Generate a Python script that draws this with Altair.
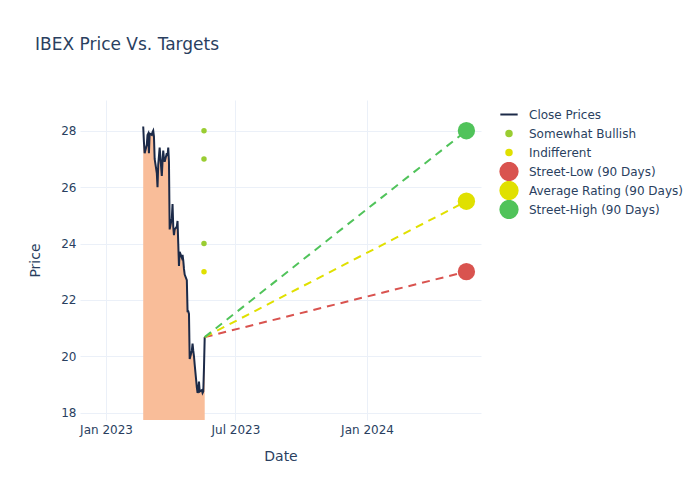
import altair as alt
import pandas as pd

# ---------------- data ----------------
price_start = "2023-02-22"
price_end = "2023-05-19"
close_prices = [28.15, 27.6, 27.2, 27.5, 27.85, 27.9, 27.2, 27.9, 27.85, 27.95,
                28.0, 27.8, 27.0, 26.5, 26.0, 26.8, 27.1, 27.4, 26.4, 26.9,
                27.3, 27.0, 26.9, 27.2, 27.1, 27.4, 26.9, 24.5, 24.9, 25.4,
                24.6, 24.3, 24.5, 24.6, 24.8, 24.0, 23.2, 23.7, 23.5, 23.6,
                23.4, 23.1, 22.9, 22.7, 21.6, 21.6, 21.5, 19.9, 20.2, 20.45,
                20.2, 20.0, 19.7, 18.9, 18.7, 18.8, 19.1, 18.75, 18.8, 18.7,
                18.75, 19.6, 20.68]

analyst_date = "2023-05-18"
analyst_ratings = ["Somewhat Bullish", "Somewhat Bullish", "Somewhat Bullish", "Indifferent"]
analyst_targets = [28, 27, 24, 23]

target_date = "2024-05-19"
target_names = ["Street-Low (90 Days)", "Average Rating (90 Days)", "Street-High (90 Days)"]
target_values = [23, 25.5, 28]

series_names = ["Close Prices", "Somewhat Bullish", "Indifferent"] + target_names
series_colors = ["#1c2a48", "#9acd32", "#e0e000", "#d9534f", "#e0e000", "#50c35a"]
series_shapes = ["stroke", "circle", "circle", "circle", "circle", "circle"]
series_sizes = [300, 30, 30, 300, 300, 300]

area_color = "#f9bd99"
text_color = "#2a3f5f"
grid_color = "#ebf0f8"
FONT = "DejaVu Sans"

# ---------------- tables ----------------
dates = pd.bdate_range(price_start, price_end).strftime("%Y-%m-%d")
price_df = pd.DataFrame({"date": list(dates), "value": close_prices, "series": "Close Prices"})

points_df = pd.DataFrame({
    "date": [analyst_date] * len(analyst_targets) + [target_date] * len(target_values),
    "value": analyst_targets + target_values,
    "series": analyst_ratings + target_names,
})

color_of = dict(zip(series_names, series_colors))
dash_rows = []
for name, val in zip(target_names, target_values):
    dash_rows.append({"date": price_end, "value": close_prices[-1], "grp": name, "col": color_of[name]})
    dash_rows.append({"date": target_date, "value": val, "grp": name, "col": color_of[name]})
dash_df = pd.DataFrame(dash_rows)

# ---------------- scales ----------------
x_enc = alt.X(
    "date:T",
    title="Date",
    scale=alt.Scale(domain=[alt.DateTime(year=2022, month=11, date=25, hours=14),
                            alt.DateTime(year=2024, month=6, date=8, hours=10)]),
    axis=alt.Axis(
        values=[alt.DateTime(year=2023, month=1, date=1),
                alt.DateTime(year=2023, month=7, date=1),
                alt.DateTime(year=2024, month=1, date=1)],
        format="%b %Y", labelFlush=False, labelOverlap=False,
    ),
)
y_scale = alt.Scale(domain=[17.74, 29.09], zero=False, nice=False)
y_enc = alt.Y("value:Q", title="Price", scale=y_scale,
              axis=alt.Axis(values=[18, 20, 22, 24, 26, 28]))

color_enc = alt.Color(
    "series:N",
    scale=alt.Scale(domain=series_names, range=series_colors),
    sort=series_names,
    legend=alt.Legend(
        title=None, orient="none", legendX=419, legendY=5,
        labelFont=FONT, labelFontSize=12, labelColor=text_color,
        labelOffset=10, rowPadding=0, clipHeight=19, symbolStrokeWidth=2,
    ),
)
shape_enc = alt.Shape("series:N", scale=alt.Scale(domain=series_names, range=series_shapes),
                      sort=series_names)
size_enc = alt.Size("series:N",
                    scale=alt.Scale(type="ordinal", domain=series_names, range=series_sizes),
                    sort=series_names)

# ---------------- layers ----------------
area = alt.Chart(price_df).mark_area(color=area_color, opacity=1, clip=True).encode(
    x=x_enc, y=y_enc, y2=alt.datum(0)
)
line = alt.Chart(price_df).mark_line(strokeWidth=2, clip=True).encode(
    x=x_enc, y=y_enc, color=color_enc
)
dashes = alt.Chart(dash_df).mark_line(strokeWidth=2, strokeDash=[8, 6]).encode(
    x=x_enc, y=y_enc, detail="grp:N", color=alt.Color("col:N", scale=None)
)
points = alt.Chart(points_df).mark_point(filled=True, opacity=1).encode(
    x=x_enc, y=y_enc, color=color_enc, shape=shape_enc, size=size_enc
)

chart = alt.layer(area, line, dashes, points).properties(
    width=401,
    height=320,
    autosize=alt.AutoSizeParams(type="none"),
    padding={"left": 72, "top": 92, "right": 211, "bottom": 72},
    title=alt.TitleParams(
        "IBEX Price Vs. Targets", anchor="start", frame="group", dx=-45, offset=46,
        font=FONT, fontSize=17, fontWeight="normal", color=text_color,
    ),
).configure_view(stroke=None).configure_axis(
    grid=True, gridColor=grid_color, gridWidth=1, domain=False, ticks=False,
    labelFont=FONT, labelFontSize=12, labelColor=text_color, labelPadding=4,
    titleFont=FONT, titleFontSize=14, titleColor=text_color, titleFontWeight="normal",
).configure_axisX(titlePadding=14).configure_axisY(titlePadding=18)

chart.save("out.html", embed_options={"renderer": "svg", "actions": False})
